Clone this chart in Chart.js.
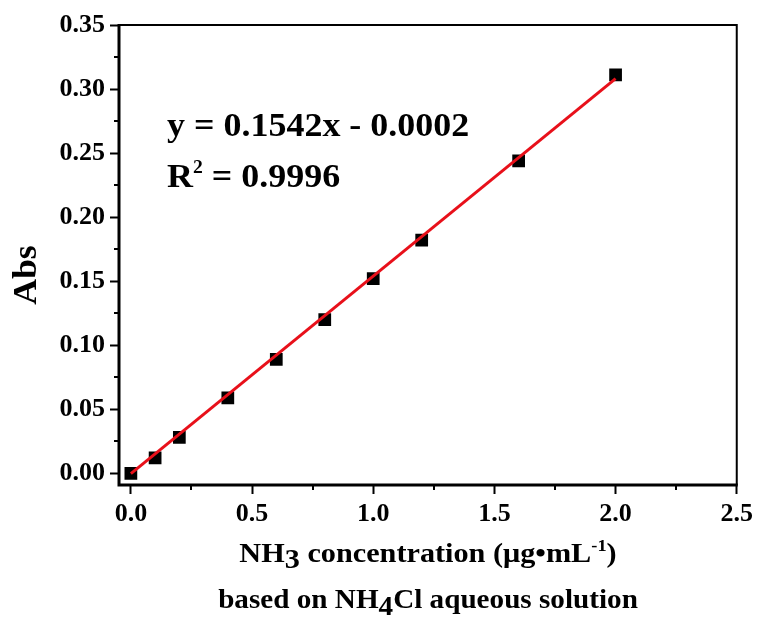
<!DOCTYPE html>
<html>
<head>
<meta charset="utf-8">
<script src="https://cdn.jsdelivr.net/npm/chart.js@4.4.1/dist/chart.umd.min.js"></script>
<style>
  html, body { margin: 0; padding: 0; background: #fff; }
  #wrap { width: 758px; height: 622px; }
</style>
</head>
<body>
<div id="wrap"><canvas id="absChart" width="758" height="622"></canvas></div>
<script>
// NH3 standard curve (NH4Cl)
const concX = [0, 0.1, 0.2, 0.4, 0.6, 0.8, 1.0, 1.2, 1.6, 2.0];
const absY = [0.000, 0.012, 0.028, 0.059, 0.089, 0.120, 0.152, 0.182, 0.244, 0.311];
const fitX = [0, 2.0];
const fitY = [-0.0002, 0.3082];
const xTickVals = [0, 0.5, 1.0, 1.5, 2.0, 2.5];
const xMinorVals = [0.25, 0.75, 1.25, 1.75, 2.25];
const yTickVals = [0, 0.05, 0.10, 0.15, 0.20, 0.25, 0.30, 0.35];
const yMinorVals = [0.025, 0.075, 0.125, 0.175, 0.225, 0.275, 0.325];

const FONT = "'Liberation Serif', 'Times New Roman', serif";

// draw text made of pieces, some of them sub/superscript; sx = horizontal stretch
function richText(ctx, parts, x, y, size, align, sx) {
  sx = sx || 1;
  let total = 0;
  parts.forEach(p => {
    ctx.font = "bold " + Math.round(size * (p.s || 1)) + "px " + FONT;
    total += ctx.measureText(p.t).width;
  });
  ctx.save();
  ctx.translate(x, y);
  ctx.scale(sx, 1);
  let cx = align === "center" ? -total / 2 : 0;
  ctx.textBaseline = "alphabetic";
  ctx.textAlign = "left";
  parts.forEach(p => {
    ctx.font = "bold " + Math.round(size * (p.s || 1)) + "px " + FONT;
    ctx.fillText(p.t, cx, (p.dy || 0) * size);
    cx += ctx.measureText(p.t).width;
  });
  ctx.restore();
}

const framePlugin = {
  id: "frame",
  afterDraw(chart) {
    const { ctx, chartArea: a, scales } = chart;
    ctx.save();
    ctx.strokeStyle = "#000";
    ctx.fillStyle = "#000";

    // minor ticks
    ctx.lineWidth = 2;
    ctx.beginPath();
    xMinorVals.forEach(v => {
      const px = Math.round(scales.x.getPixelForValue(v));
      ctx.moveTo(px, a.bottom);
      ctx.lineTo(px, a.bottom + 5);
    });
    yMinorVals.forEach(v => {
      const py = Math.round(scales.y.getPixelForValue(v));
      ctx.moveTo(a.left, py);
      ctx.lineTo(a.left - 5, py);
    });
    ctx.stroke();

    // box
    ctx.lineWidth = 2;
    ctx.beginPath();
    ctx.moveTo(a.left, a.top);
    ctx.lineTo(a.right, a.top);
    ctx.lineTo(a.right, a.bottom);
    ctx.stroke();
    ctx.lineWidth = 3;
    ctx.beginPath();
    ctx.moveTo(a.left, a.top - 1);
    ctx.lineTo(a.left, a.bottom);
    ctx.lineTo(a.right + 1, a.bottom);
    ctx.stroke();

    // equation
    richText(ctx, [{ t: "y = 0.1542x - 0.0002" }], 167, 136, 33, "left", 1.09);
    richText(ctx, [{ t: "R" }, { t: "2", s: 0.55, dy: -0.42 }, { t: " = 0.9996" }], 167, 187, 33, "left", 1.09);

    // axis titles
    ctx.save();
    ctx.translate(36, 275);
    ctx.rotate(-Math.PI / 2);
    richText(ctx, [{ t: "Abs" }], 0, 0, 33, "center", 1.08);
    ctx.restore();

    richText(ctx, [
      { t: "NH" }, { t: "3", dy: 0.22 }, { t: " concentration (μg•mL" },
      { t: "-1", s: 0.6, dy: -0.4 }, { t: ")" }
    ], 428, 562, 27.5, "center", 1.08);
    richText(ctx, [
      { t: "based on NH" }, { t: "4", dy: 0.25 }, { t: "Cl aqueous solution" }
    ], 428, 608, 27, "center", 1.08);
    ctx.restore();
  }
};

new Chart(document.getElementById("absChart"), {
  type: "scatter",
  data: {
    datasets: [
      {
        type: "line",
        label: "fit",
        data: fitX.map((x, i) => ({ x: x, y: fitY[i] })),
        borderColor: "#e8101a",
        borderWidth: 3,
        pointRadius: 0,
        fill: false,
        order: 0
      },
      {
        label: "Abs",
        data: concX.map((x, i) => ({ x: x, y: absY[i] })),
        pointStyle: "rect",
        pointRadius: 9,
        backgroundColor: "#000",
        borderColor: "#000",
        borderWidth: 0,
        order: 1
      }
    ]
  },
  options: {
    responsive: false,
    animation: false,
    layout: { padding: { top: 25, right: 21, left: 0, bottom: 0 } },
    plugins: {
      legend: { display: false },
      tooltip: { enabled: false }
    },
    scales: {
      x: {
        type: "linear",
        min: -0.049,
        max: 2.5,
        afterBuildTicks: s => { s.ticks = xTickVals.map(v => ({ value: v })); },
        afterFit: s => { s.height = 137; },
        border: { display: false },
        grid: { drawOnChartArea: false, tickLength: 9, tickWidth: 2, tickColor: "#000" },
        ticks: {
          color: "#000",
          padding: 5,
          maxRotation: 0,
          font: { family: FONT, size: 26, weight: "bold" },
          callback: v => v.toFixed(1)
        }
      },
      y: {
        type: "linear",
        min: -0.0091,
        max: 0.35,
        afterBuildTicks: s => { s.ticks = yTickVals.map(v => ({ value: v })); },
        afterFit: s => { s.width = 119; },
        border: { display: false },
        grid: { drawOnChartArea: false, tickLength: 9, tickWidth: 2, tickColor: "#000" },
        ticks: {
          color: "#000",
          padding: 5,
          font: { family: FONT, size: 26, weight: "bold" },
          callback: v => v.toFixed(2)
        }
      }
    }
  },
  plugins: [framePlugin]
});
</script>
</body>
</html>
